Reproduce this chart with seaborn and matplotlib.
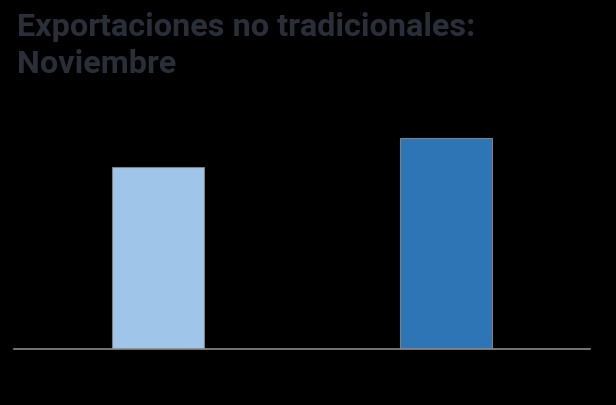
import matplotlib
matplotlib.use("Agg")
import matplotlib.pyplot as plt
import seaborn as sns
import pandas as pd

categories = ["Noviembre 2019", "Noviembre 2020"]
values = [1023, 1186]
bar_colors = ["#9fc5e8", "#2e75b6"]

sns.set_theme(style="white")
plt.rcParams["font.family"] = ["Roboto", "DejaVu Sans"]

df = pd.DataFrame({"cat": categories, "val": values})

fig = plt.figure(figsize=(6.16, 4.05), dpi=100, facecolor="black")
ax = fig.add_axes([14/616, (405-349)/405, 576/616, 249/405])
ax.set_facecolor("black")

sns.barplot(data=df, x="cat", y="val", hue="cat", palette=bar_colors,
            saturation=1, width=0.317, edgecolor="#7f7f7f", linewidth=0.8,
            legend=False, ax=ax)

ax.set_xlim(-0.5, 1.5)
ax.set_ylim(0, 1400)
ax.set_xlabel("")
ax.set_ylabel("")
ax.set_yticks([])
ax.tick_params(axis="x", colors="black", labelcolor="black", length=0)
for s in ["top", "right", "left"]:
    ax.spines[s].set_visible(False)
ax.spines["bottom"].set_color("#8a8a8a")
ax.spines["bottom"].set_linewidth(1.2)

fig.text(17/616, 1 - 12/405, "Exportaciones no tradicionales:\nNoviembre",
         ha="left", va="top", fontsize=23.3, fontweight="bold",
         color="#2a2e38", linespacing=1.3)

fig.savefig("out.png", dpi=100, facecolor="black")
